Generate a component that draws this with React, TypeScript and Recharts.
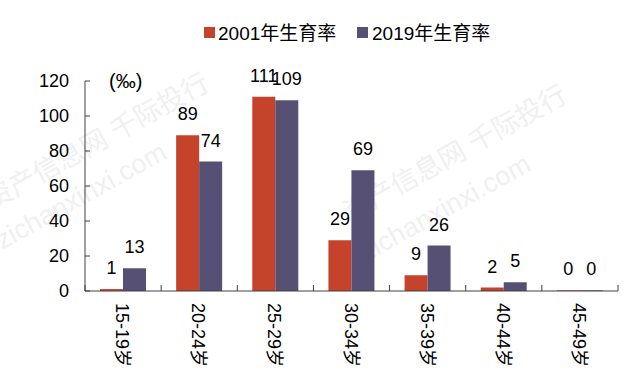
import React from "react"
import { BarChart, Bar, XAxis, YAxis, LabelList } from "recharts"

const ageGroups = ["15-19岁", "20-24岁", "25-29岁", "30-34岁", "35-39岁", "40-44岁", "45-49岁"]
const rate2001 = [1.1, 89, 111, 29, 9, 2, 0.4]
const rate2019 = [13, 74, 109, 69, 26, 5, 0.4]
const yTicks = [0, 20, 40, 60, 80, 100, 120]

const data = ageGroups.map((g, i) => ({ group: g, y2001: rate2001[i], y2019: rate2019[i] }))

const W = 638
const H = 378
const axisY = 291
const margin = { top: 81, right: 20, left: 0, bottom: 0 }
const yAxisWidth = 85
const band = (W - yAxisWidth - margin.right) / ageGroups.length
const font = "Arial, 'Liberation Sans', 'Noto Sans CJK SC', sans-serif"
const axisColor = "#404040"
const red = "#C4432A"
const purple = "#565174"

const YTick = (props: any) => {
  const { x, y, payload } = props
  return (
    <g>
      <line x1={x} x2={x + 5} y1={y} y2={y} stroke={axisColor} strokeWidth={1} />
      <text x={x - 16} y={y} textAnchor="end" dominantBaseline="central" fontSize={18} fill="#000" fontFamily={font}>
        {payload.value}
      </text>
    </g>
  )
}

const XTick = (props: any) => {
  const { x, y, payload, index } = props
  const last = index === ageGroups.length - 1
  return (
    <g>
      <line x1={x - band / 2} x2={x - band / 2} y1={y - 6} y2={y} stroke={axisColor} strokeWidth={1} />
      {last && <line x1={x + band / 2} x2={x + band / 2} y1={y - 6} y2={y} stroke={axisColor} strokeWidth={1} />}
      <text
        x={x - 1}
        y={y + 12}
        transform={`rotate(90, ${x - 1}, ${y + 12})`}
        textAnchor="start"
        dominantBaseline="central"
        fontSize={18}
        fill="#000"
        fontFamily={font}
      >
        {payload.value}
      </text>
    </g>
  )
}

const fmt = (v: any) => Math.round(Number(v))

export default function App() {
  return (
    <div style={{ position: "absolute", left: 0, top: 0, width: W, height: H, background: "#fff", fontFamily: font }}>
      <svg width={W} height={H} style={{ position: "absolute", left: 0, top: 0 }}>
        {/* watermark */}
        <g fill="#e6e6e6" fillOpacity={0.6} fontFamily={font} fontSize={27}>
          <text x={-8} y={210} transform="rotate(-29, -8, 210)">资产信息网 千际投行</text>
          <text x={2} y={250} transform="rotate(-29, 2, 250)">zichanxinxi.com</text>
          <text x={350} y={222} transform="rotate(-29, 350, 222)">资产信息网 千际投行</text>
          <text x={366} y={262} transform="rotate(-29, 366, 262)">zichanxinxi.com</text>
        </g>
      </svg>
      <div style={{ position: "absolute", left: 0, top: 0 }}>
        <BarChart width={W} height={H} data={data} margin={margin} barSize={23} barGap={0} barCategoryGap={15}>
          <YAxis
            domain={[0, 120]}
            ticks={yTicks}
            width={yAxisWidth}
            tickSize={0}
            tickMargin={0}
            tickLine={false}
            tick={<YTick />}
            axisLine={{ stroke: axisColor, strokeWidth: 1 }}
            interval={0}
          />
          <XAxis
            dataKey="group"
            height={H - axisY}
            tickSize={0}
            tickMargin={0}
            tickLine={false}
            tick={<XTick />}
            axisLine={{ stroke: axisColor, strokeWidth: 1 }}
            interval={0}
          />
          <Bar dataKey="y2001" fill={red} isAnimationActive={false}>
            <LabelList dataKey="y2001" position="top" offset={15} formatter={fmt} fontSize={18} fill="#000" fontFamily={font} />
          </Bar>
          <Bar dataKey="y2019" fill={purple} isAnimationActive={false}>
            <LabelList dataKey="y2019" position="top" offset={15} formatter={fmt} fontSize={18} fill="#000" fontFamily={font} />
          </Bar>
        </BarChart>
      </div>
      <svg width={W} height={H} style={{ position: "absolute", left: 0, top: 0, pointerEvents: "none" }}>
        <text x={109} y={81} dominantBaseline="central" fontSize={20} fill="#000" fontFamily={font}>(‰)</text>
        <rect x={204} y={27} width={11} height={11} fill={red} />
        <text x={218} y={33} dominantBaseline="central" fontSize={19} fill="#000" fontFamily={font}>2001年生育率</text>
        <rect x={357} y={27} width={11} height={11} fill={purple} />
        <text x={372} y={33} dominantBaseline="central" fontSize={19} fill="#000" fontFamily={font}>2019年生育率</text>
      </svg>
    </div>
  )
}
